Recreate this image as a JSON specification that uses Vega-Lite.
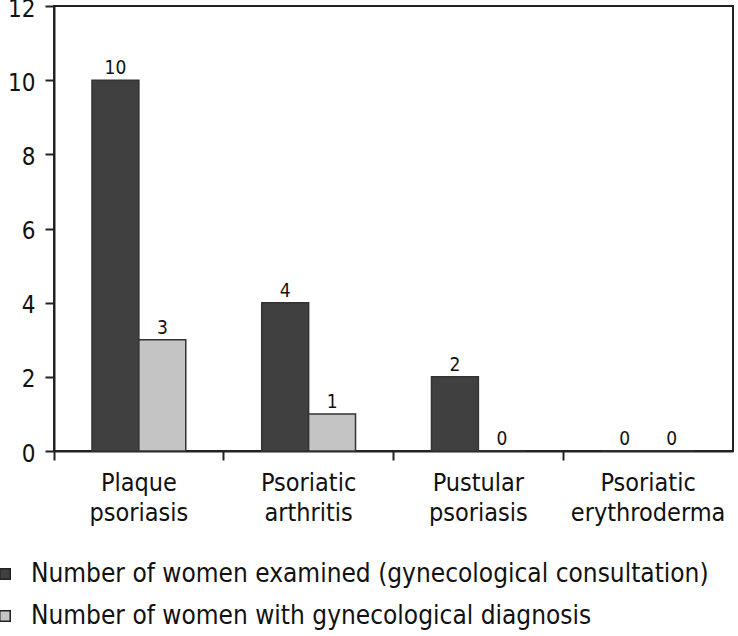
{
  "$schema": "https://vega.github.io/schema/vega-lite/v6.json",
  "width": 679,
  "height": 445,
  "autosize": "none",
  "padding": {"left": 54, "top": 6, "right": 5, "bottom": 185},
  "background": "white",
  "config": {
    "font": "DejaVu Sans Condensed",
    "view": {"stroke": "#222", "strokeWidth": 2}
  },
  "data": {
    "values": [
      {"type": "Plaque psoriasis", "series": "Number of women examined (gynecological consultation)", "value": 10},
      {"type": "Plaque psoriasis", "series": "Number of women with gynecological diagnosis", "value": 3},
      {"type": "Psoriatic arthritis", "series": "Number of women examined (gynecological consultation)", "value": 4},
      {"type": "Psoriatic arthritis", "series": "Number of women with gynecological diagnosis", "value": 1},
      {"type": "Pustular psoriasis", "series": "Number of women examined (gynecological consultation)", "value": 2},
      {"type": "Pustular psoriasis", "series": "Number of women with gynecological diagnosis", "value": 0},
      {"type": "Psoriatic erythroderma", "series": "Number of women examined (gynecological consultation)", "value": 0},
      {"type": "Psoriatic erythroderma", "series": "Number of women with gynecological diagnosis", "value": 0}
    ]
  },
  "encoding": {
    "x": {
      "field": "type", "type": "nominal", "sort": null,
      "scale": {"paddingInner": 0, "paddingOuter": 0},
      "axis": {
        "title": null, "labelAngle": 0, "bandPosition": 0,
        "labelExpr": "split(datum.label, ' ')",
        "labelFontSize": 25, "labelColor": "#111", "labelLineHeight": 30,
        "labelPadding": 10, "tickSize": 9, "tickColor": "#222", "tickWidth": 2,
        "domainColor": "#222", "domainWidth": 2, "labelBaseline": "top"
      }
    },
    "xOffset": {
      "field": "series", "type": "nominal", "sort": null,
      "scale": {"paddingInner": 0, "paddingOuter": 0.81}
    },
    "y": {
      "field": "value", "type": "quantitative",
      "scale": {"domain": [0, 12], "nice": false},
      "axis": {
        "title": null, "values": [0, 2, 4, 6, 8, 10, 12], "grid": false,
        "labelFontSize": 24, "labelColor": "#111", "labelPadding": 10, "labelOffset": 3,
        "tickSize": 9, "tickColor": "#222", "tickWidth": 2,
        "domainColor": "#222", "domainWidth": 2
      }
    }
  },
  "layer": [
    {
      "mark": {"type": "bar", "stroke": "#333", "strokeWidth": 1.5},
      "encoding": {
        "fill": {
          "field": "series", "type": "nominal", "sort": null,
          "scale": {"range": ["#404040", "#c4c4c4"]},
          "legend": {
            "title": null, "orient": "none", "legendX": -62, "legendY": 555,
            "padding": 0, "offset": 0,
            "direction": "vertical", "symbolType": "square", "symbolSize": 110,
            "symbolStrokeColor": "#222", "symbolStrokeWidth": 1.5,
            "labelFontSize": 26, "labelColor": "#111", "labelOffset": 13,
            "rowPadding": 16, "labelLimit": 800
          }
        }
      }
    },
    {
      "mark": {"type": "text", "baseline": "bottom", "dy": -2, "fontSize": 19, "color": "#111"},
      "encoding": {
        "text": {"field": "value", "type": "quantitative"}
      }
    }
  ]
}
